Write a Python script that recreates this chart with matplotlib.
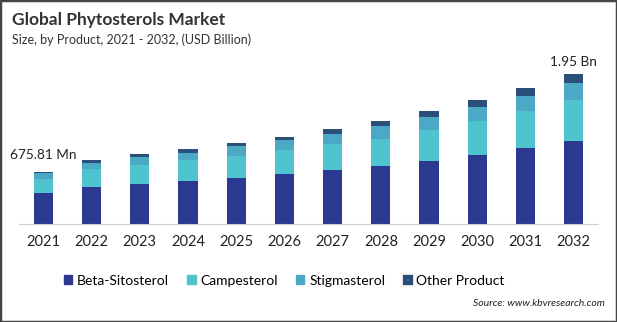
import matplotlib.pyplot as plt
import matplotlib.patches as mpatches
import numpy as np

plt.rcParams['font.family'] = ['Lato', 'DejaVu Sans']

years = ['2021', '2022', '2023', '2024', '2025', '2026', '2027', '2028', '2029', '2030', '2031', '2032']
beta = [0.40, 0.48, 0.52, 0.56, 0.60, 0.65, 0.70, 0.75, 0.82, 0.90, 0.99, 1.08]
campesterol = [0.19, 0.23, 0.25, 0.27, 0.29, 0.31, 0.34, 0.36, 0.40, 0.44, 0.48, 0.53]
stigmasterol = [0.07, 0.08, 0.10, 0.10, 0.12, 0.13, 0.13, 0.16, 0.17, 0.18, 0.20, 0.22]
other = [0.02, 0.04, 0.04, 0.04, 0.05, 0.04, 0.07, 0.07, 0.08, 0.09, 0.10, 0.12]
series_names = ['Beta-Sitosterol', 'Campesterol', 'Stigmasterol', 'Other Product']
colors = ['#2b3990', '#4fc4cf', '#4ba9c6', '#2a4f7a']

fig = plt.figure(figsize=(6.17, 3.22), dpi=100)
ax = fig.add_axes([0.031, 0.304, 0.938, 0.502])

x = np.arange(len(years))
bottom = np.zeros(len(years))
for vals, name, c in zip([beta, campesterol, stigmasterol, other], series_names, colors):
    ax.bar(x, vals, 0.4, bottom=bottom, color=c, label=name)
    bottom += np.array(vals)

ax.set_xlim(-0.5, 11.5)
ax.set_ylim(0, 2.1)
ax.set_yticks([])
ax.set_xticks(x)
ax.set_xticklabels(years, fontsize=10.5, color='#222222')
ax.tick_params(axis='x', length=0, pad=8)
for s in ['top', 'right', 'left']:
    ax.spines[s].set_visible(False)
ax.spines['bottom'].set_color('#d0d0d0')

ax.annotate('675.81 Mn', (0, bottom[0]), xytext=(0, 8), textcoords='offset points',
            ha='center', va='bottom', fontsize=9.8, color='#222222')
ax.annotate('1.95 Bn', (11, bottom[-1]), xytext=(0, 4), textcoords='offset points',
            ha='center', va='bottom', fontsize=9.8, color='#222222')

fig.text(0.019, 0.937, 'Global Phytosterols Market', fontsize=12.5, fontweight='bold', color='#333333', va='center')
fig.text(0.019, 0.876, 'Size, by Product, 2021 - 2032, (USD Billion)', fontsize=9, color='#333333', va='center')

handles = [mpatches.Patch(color=c) for c in colors]
fig.legend(handles, series_names, loc='center', bbox_to_anchor=(0.461, 0.128), ncol=4, frameon=False,
           fontsize=10, handlelength=0.6, handleheight=0.6, handletextpad=0.35, columnspacing=1.3)

fig.text(0.98, 0.058, 'Source: www.kbvresearch.com', fontsize=7.5, style='italic', color='#222222',
         ha='right', va='center')

fig.patches.append(mpatches.Rectangle((0, 0), 1, 1, transform=fig.transFigure, fill=False,
                                      edgecolor='#444444', linewidth=2.5))

fig.savefig('out.png', dpi=100)
